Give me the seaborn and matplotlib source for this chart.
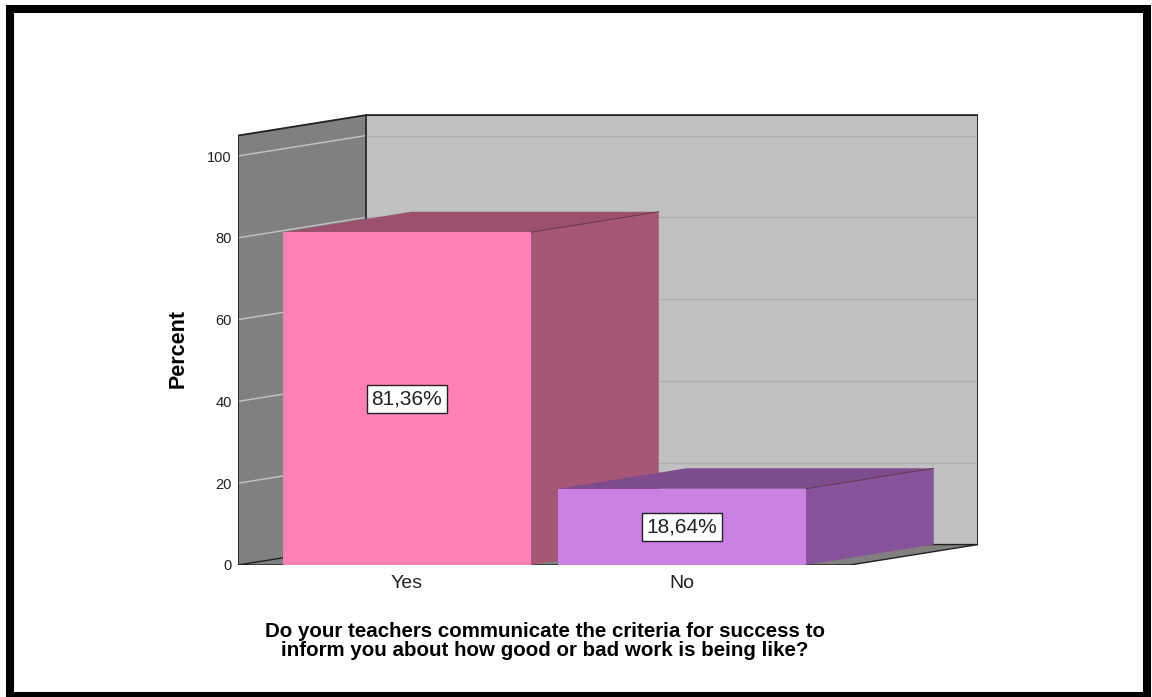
import matplotlib
matplotlib.use("Agg")
import matplotlib.pyplot as plt
import seaborn as sns
import pandas as pd
from matplotlib.patches import Polygon, Rectangle

# ---------------- data ----------------
categories = ["Yes", "No"]
percents = [81.36, 18.64]
bar_labels = ["81,36%", "18,64%"]
y_ticks = [0, 20, 40, 60, 80, 100]
y_label = "Percent"
x_label = ("Do your teachers communicate the criteria for success to\n"
           "inform you about how good or bad work is being like?")

front_colors = ["#FF80B4", "#CB80E4"]
side_colors = ["#A85676", "#87539B"]
top_colors = ["#9B506E", "#7C4C8F"]

# ---------------- style ----------------
sns.set_theme(style="white")
plt.rcParams["font.family"] = ["Liberation Sans", "DejaVu Sans"]

W, H = 1152, 697
fig = plt.figure(figsize=(W / 100, H / 100), dpi=100)
fig.patch.set_facecolor("white")

# axes placement (pixels)
x0px, x1px = 238, 978
ytop_px, ybot_px = 114, 565
ax = fig.add_axes([x0px / W, (H - ybot_px) / H, (x1px - x0px) / W, (ybot_px - ytop_px) / H])

df = pd.DataFrame({"cat": categories, "pct": percents})
sns.barplot(data=df, x="cat", y="pct", hue="cat", palette=front_colors, legend=False,
            width=0.9, saturation=1, linewidth=0, ax=ax)

# depth geometry (data units)
XL = -0.6145
XR = 2.0764
YTOP = 110.27
DX = 0.4655
DY = 5.0
WALL_TOP = 105.0

ax.set_xlim(XL, XR)
ax.set_ylim(0, YTOP)
ax.set_facecolor("none")
for s in ax.spines.values():
    s.set_visible(False)

bx = XL + DX  # back wall left x
fx = XR - DX  # floor front right x

# back wall
ax.add_patch(Polygon([(bx, DY), (XR, DY), (XR, WALL_TOP + DY), (bx, WALL_TOP + DY)],
                     closed=True, fc="#C0C0C0", ec="none", zorder=0.5))
# left wall
ax.add_patch(Polygon([(XL, 0), (bx, DY), (bx, WALL_TOP + DY), (XL, WALL_TOP)],
                     closed=True, fc="#808080", ec="none", zorder=0.6))
# grid lines
for v in y_ticks[1:]:
    ax.plot([bx, XR], [v + DY, v + DY], color="#ADADAD", lw=1.0, zorder=0.7)
    ax.plot([XL, bx], [v, v + DY], color="#C4C4C4", lw=1.0, zorder=0.7)
# floor
ax.add_patch(Polygon([(XL, 0), (fx, 0), (XR, DY), (bx, DY)],
                     closed=True, fc="#808080", ec="#202020", lw=1.0, zorder=0.8))
# wall outlines
ax.plot([XL, XL, bx, XR, XR], [0, WALL_TOP, WALL_TOP + DY, WALL_TOP + DY, DY],
        color="#202020", lw=1.3, zorder=0.9, solid_joinstyle="miter")
ax.plot([bx, bx], [DY, WALL_TOP + DY], color="#202020", lw=1.2, zorder=0.9)

# 3D bars: front faces from seaborn, side/top derived from the bar patches
bars = [pp for pp in ax.patches if isinstance(pp, Rectangle) and pp.get_width() < 1.0]
for i, p in enumerate(bars):
    x = p.get_x()
    w = p.get_width()
    h = p.get_height()
    base_z = 3 + 2 * i
    p.set_zorder(base_z + 1)
    ax.add_patch(Polygon([(x + w, 0), (x + w, h), (x + w + DX, h + DY), (x + w + DX, DY)],
                         closed=True, fc=side_colors[i], ec="none", zorder=base_z))
    ax.add_patch(Polygon([(x, h), (x + w, h), (x + w + DX, h + DY), (x + DX, h + DY)],
                         closed=True, fc=top_colors[i], ec="none", zorder=base_z))
    ax.plot([x + w, x + w + DX], [h, h + DY], color="#5a3040", lw=0.6, zorder=base_z + 0.5)
    ax.text(x + w / 2, h / 2, bar_labels[i], ha="center", va="center", fontsize=15,
            color="#222222", zorder=20,
            bbox=dict(boxstyle="square,pad=0.22", fc="white", ec="#222222", lw=1.0))

ax.set_yticks(y_ticks)
ax.set_yticklabels([str(t) for t in y_ticks])
ax.tick_params(axis="y", length=0, pad=4.5, labelsize=10.5, labelcolor="#222222")
ax.tick_params(axis="x", length=0, pad=7, labelsize=14, labelcolor="#222222")
ax.set_xlabel("")
ax.set_ylabel("")
ax.grid(False)

fig.text(178 / W, 1 - 348 / H, y_label, rotation=90, ha="center", va="center",
         fontsize=15.5, fontweight="bold", color="black")
fig.text(545 / W, 1 - 641 / H, x_label, ha="center", va="center", fontsize=14.8,
         fontweight="bold", color="black", linespacing=0.97)

# outer frame
fig.add_artist(Rectangle((10 / W, 1 - 696 / H), (1147 - 10) / W, (696 - 9) / H,
                         transform=fig.transFigure, fill=False, ec="black", lw=5.8))

fig.savefig("out.png", dpi=100, facecolor="white")
